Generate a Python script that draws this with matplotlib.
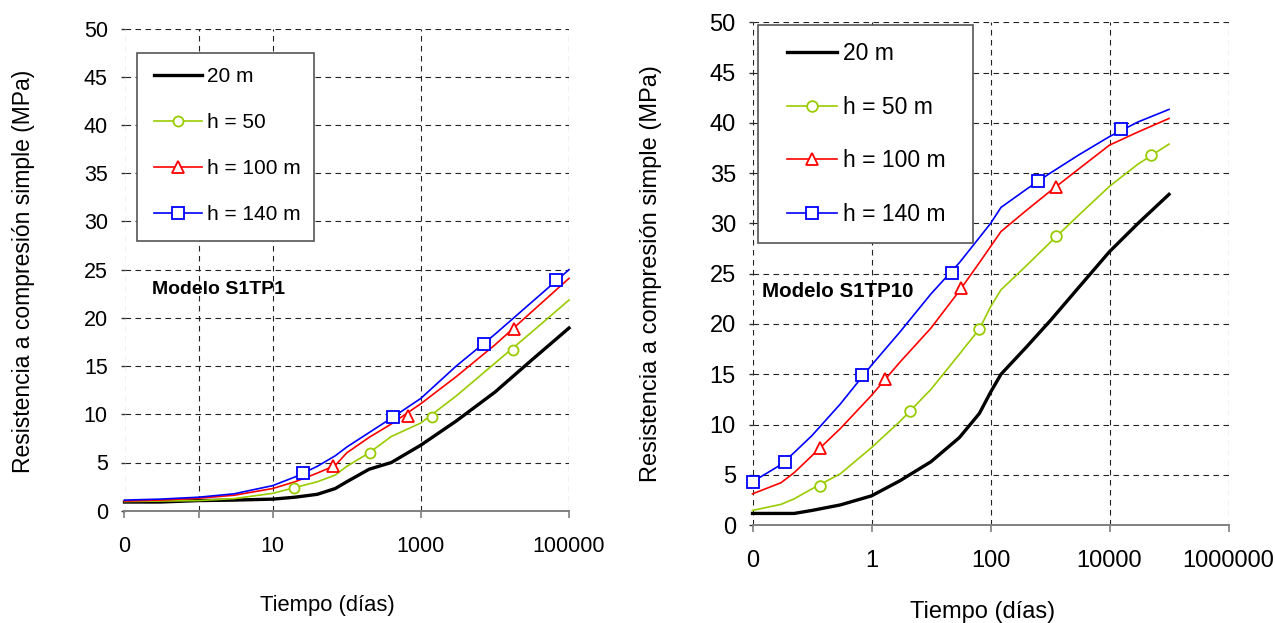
import matplotlib
matplotlib.use("Agg")
import matplotlib.pyplot as plt
from matplotlib.patches import Rectangle
from matplotlib.lines import Line2D

plt.rcParams['font.family'] = ['Liberation Sans', 'DejaVu Sans']

# ---------------- data: Modelo S1TP1 (left) ----------------
t_left = [0.1, 0.3, 1, 3, 10, 20, 40, 70, 100, 200, 400, 1000, 3000, 10000, 30000, 100000]
left_20 = [0.9, 0.9, 1.05, 1.1, 1.2, 1.4, 1.7, 2.3, 3.0, 4.3, 5.0, 6.8, 9.3, 12.3, 15.5, 18.95]
left_50 = [0.95, 1.0, 1.05, 1.25, 1.8, 2.4, 3.0, 3.7, 4.6, 6.0, 7.7, 9.1, 11.9, 15.3, 18.4, 21.85]
left_100 = [1.0, 1.1, 1.3, 1.6, 2.3, 3.0, 3.9, 4.7, 6.0, 7.6, 9.0, 11.1, 13.9, 17.2, 20.5, 24.1]
left_140 = [1.1, 1.2, 1.4, 1.75, 2.6, 3.5, 4.6, 5.7, 6.6, 8.1, 9.6, 11.65, 15.0, 18.3, 21.5, 25.0]

# marker points (left)
lm50_t = [19.5, 204, 1400, 17400]
lm50_v = [2.4, 6.0, 9.75, 16.7]
lm100_t = [66, 680, 18200]
lm100_v = [4.6, 9.85, 18.9]
lm140_t = [25.7, 427, 7200, 67000]
lm140_v = [3.9, 9.75, 17.3, 23.9]

# ---------------- data: Modelo S1TP10 (right) ----------------
t_right = [0.01, 0.03, 0.05, 0.1, 0.3, 1, 3, 10, 30, 65, 100, 150, 400, 1000, 3000, 10000, 30000, 100000]
right_20 = [1.15, 1.15, 1.15, 1.45, 2.0, 2.9, 4.4, 6.3, 8.7, 11.1, 13.2, 15.0, 17.7, 20.3, 23.6, 27.2, 30.0, 32.9]
right_50 = [1.45, 2.05, 2.6, 3.6, 5.1, 7.7, 10.3, 13.5, 17.0, 19.5, 21.7, 23.4, 25.8, 28.1, 30.8, 33.7, 35.9, 37.9]
right_100 = [3.1, 4.2, 5.2, 6.9, 9.6, 12.9, 16.2, 19.6, 23.3, 26.1, 27.7, 29.2, 31.3, 33.2, 35.4, 37.8, 39.1, 40.45]
right_140 = [4.3, 6.0, 7.2, 8.9, 12.05, 15.9, 19.2, 23.0, 26.1, 28.6, 30.0, 31.6, 33.4, 35.0, 36.8, 38.65, 40.1, 41.35]

rm50_t = [0.137, 4.4, 65, 1260, 49000]
rm50_v = [3.9, 11.3, 19.5, 28.8, 36.8]
rm100_t = [0.137, 1.7, 31.6, 1260]
rm100_v = [7.65, 14.5, 23.55, 33.6]
rm140_t = [0.01, 0.035, 0.68, 22.4, 630, 15500]
rm140_v = [4.3, 6.3, 14.95, 25.1, 34.25, 39.4]

left_ticks = [0.1, 1, 10, 1000, 100000]
left_ticklabels = ["0", "", "10", "1000", "100000"]
right_ticks = [0.01, 1, 100, 10000, 1000000]
right_ticklabels = ["0", "1", "100", "10000", "1000000"]
y_ticks = list(range(0, 51, 5))

labels_left = ["20 m", "h = 50", "h = 100 m", "h = 140 m"]
labels_right = ["20 m", "h = 50 m", "h = 100 m", "h = 140 m"]

GREEN = '#99CC00'
RED = '#FF0000'
BLUE = '#0000FF'
W, H = 1275, 623

fig = plt.figure(figsize=(W / 100, H / 100), dpi=100)


def fx(px):
    return px / W


def fy(py):
    return 1 - py / H


def make_axes(rect, xlim, ticks, ticklabels, fs):
    ax = fig.add_axes(rect)
    ax.set_xscale('log')
    ax.set_xlim(*xlim)
    ax.set_ylim(0, 50)
    ax.set_xticks(ticks)
    ax.set_xticklabels(ticklabels)
    ax.xaxis.set_minor_locator(matplotlib.ticker.NullLocator())
    ax.set_yticks(y_ticks)
    for s in ['top', 'right', 'left']:
        ax.spines[s].set_visible(False)
    ax.spines['bottom'].set_color('#808080')
    ax.spines['bottom'].set_linewidth(1.4)
    ax.tick_params(axis='x', direction='out', length=5, width=1.2, color='#808080',
                   labelsize=fs, pad=13)
    ax.tick_params(axis='y', direction='out', length=3, width=1.0, color='#333333',
                   labelsize=fs, pad=9)
    ax.grid(True, color='#222222', linestyle=(0, (5, 4)), linewidth=0.8)
    ax.set_axisbelow(True)
    return ax


def draw_series(ax, t, s20, s50, s100, s140, m50, m100, m140, ms):
    ax.plot(t, s20, color='black', lw=2.4, zorder=3, clip_on=False)
    ax.plot(t, s50, color=GREEN, lw=1.2, zorder=3, clip_on=False)
    ax.plot(t, s100, color=RED, lw=1.2, zorder=3, clip_on=False)
    ax.plot(t, s140, color=BLUE, lw=1.2, zorder=3, clip_on=False)
    ax.plot(m50[0], m50[1], 'o', ls='none', mfc='white', mec=GREEN, mew=1.3,
            ms=ms[0], zorder=4, clip_on=False)
    ax.plot(m100[0], m100[1], '^', ls='none', mfc='white', mec=RED, mew=1.3,
            ms=ms[1], zorder=4, clip_on=False)
    ax.plot(m140[0], m140[1], 's', ls='none', mfc='white', mec=BLUE, mew=1.3,
            ms=ms[2], zorder=4, clip_on=False)


def draw_legend(ax, labels, box, anchor, fs, ms, spacing, hlen):
    x0, y0, x1, y1 = box
    ax.add_patch(Rectangle((fx(x0), fy(y1)), fx(x1) - fx(x0), fy(y0) - fy(y1),
                           transform=fig.transFigure, facecolor='white',
                           edgecolor='#555555', lw=1.2, zorder=6, clip_on=False))
    handles = [
        Line2D([], [], color='black', lw=2.4),
        Line2D([], [], color=GREEN, lw=1.2, marker='o', mfc='white', mec=GREEN, mew=1.3, ms=ms[0]),
        Line2D([], [], color=RED, lw=1.2, marker='^', mfc='white', mec=RED, mew=1.3, ms=ms[1]),
        Line2D([], [], color=BLUE, lw=1.2, marker='s', mfc='white', mec=BLUE, mew=1.3, ms=ms[2]),
    ]
    leg = ax.legend(handles, labels, loc='upper left', bbox_to_anchor=(fx(anchor[0]), fy(anchor[1])),
                    bbox_transform=fig.transFigure, frameon=False, borderpad=0, borderaxespad=0,
                    fontsize=fs, handlelength=hlen, handletextpad=0.25, labelspacing=spacing)
    leg.set_zorder(7)


# ---------------- left chart ----------------
axl = make_axes([fx(124.5), fy(510.7), fx(569) - fx(124.5), (510.7 - 28.7) / H],
                (0.1, 100000), left_ticks, left_ticklabels, 15.5)
draw_series(axl, t_left, left_20, left_50, left_100, left_140,
            (lm50_t, lm50_v), (lm100_t, lm100_v), (lm140_t, lm140_v), (7.2, 8, 8.2))
draw_legend(axl, labels_left, (137.3, 52.7, 314, 241.3), (154, 67), 15, (7.2, 8, 8.2), 1.3, 2.3)
fig.text(fx(151.7), fy(290), "Modelo S1TP1", fontsize=14, fontweight='bold', va='center', ha='left')
fig.text(fx(24), fy(271), "Resistencia a compresión simple (MPa)", fontsize=16.5,
         rotation=90, ha='center', va='center')
fig.text(fx(327), fy(605), "Tiempo (días)", fontsize=15.8, ha='center', va='center')

# ---------------- right chart ----------------
axr = make_axes([fx(752.5), fy(525), fx(1228.5) - fx(752.5), (525 - 22.5) / H],
                (0.01, 1000000), right_ticks, right_ticklabels, 17)
draw_series(axr, t_right, right_20, right_50, right_100, right_140,
            (rm50_t, rm50_v), (rm100_t, rm100_v), (rm140_t, rm140_v), (7.7, 8, 8.9))
draw_legend(axr, labels_right, (757.7, 25, 973.3, 243.3), (786.7, 42.5), 16.5, (7.7, 8, 8.9), 1.33, 2.2)
fig.text(fx(762.3), fy(291.7), "Modelo S1TP10", fontsize=14.8, fontweight='bold', va='center', ha='left')
fig.text(fx(651), fy(274), "Resistencia a compresión simple (MPa)", fontsize=17,
         rotation=90, ha='center', va='center')
fig.text(fx(983), fy(612), "Tiempo (días)", fontsize=17, ha='center', va='center')

fig.savefig("out.png", dpi=100)
